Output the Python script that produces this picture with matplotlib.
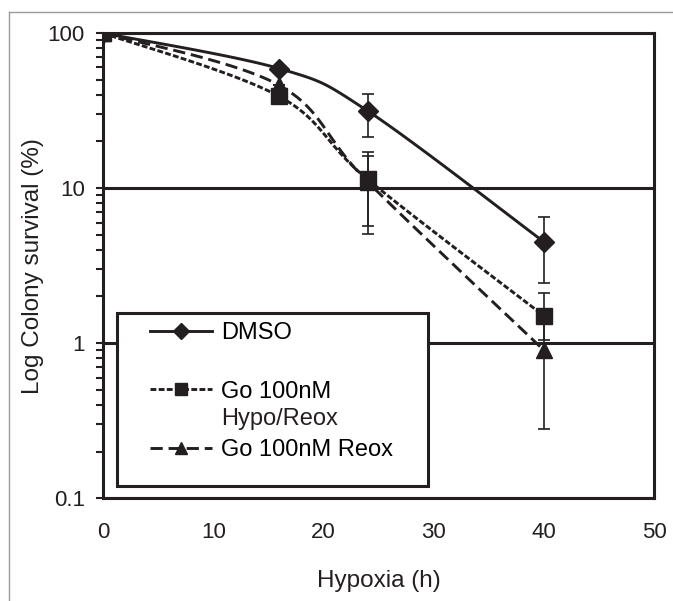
import numpy as np
import matplotlib
matplotlib.use("Agg")
import matplotlib.pyplot as plt
from matplotlib.lines import Line2D
from matplotlib.patches import Rectangle

plt.rcParams["font.family"] = ["Liberation Sans", "DejaVu Sans"]
plt.rcParams["font.size"] = 17

INK = "#231f20"

hours = [0, 16, 24, 40]

dmso = [100, 59, 31.5, 4.5]
dmso_lo = [100, 59, 21.4, 2.43]
dmso_hi = [100, 59, 40.2, 6.5]

hypo = [100, 39, 11.4, 1.5]
hypo_lo = [100, 39, 5.05, 1.05]
hypo_hi = [100, 39, 17.1, 2.1]

reox = [100, 46, 11.0, 0.9]
reox_lo = [100, 46, 5.7, 0.28]
reox_hi = [100, 46, 16.0, 1.4]

labels = ["DMSO", "Go 100nM", "Go 100nM Reox"]
label_extra = "Hypo/Reox"
x_ticks = [0, 10, 20, 30, 40, 50]
y_ticks = [0.1, 1, 10, 100]
y_ticklabels = ["0.1", "1", "10", "100"]


def smooth(x, y, n=40):
    # Excel style smoothed line: bezier through points, done in (x, log y)
    px = np.asarray(x, float)
    py = np.log10(np.asarray(y, float))
    pts = np.column_stack([px, py])
    ext = np.vstack([pts[0], pts, pts[-1]])
    out = []
    t = np.linspace(0, 1, n)[:, None]
    for i in range(len(pts) - 1):
        p0, p3 = ext[i + 1], ext[i + 2]
        p1 = p0 + (ext[i + 2] - ext[i]) / 6
        p2 = p3 - (ext[i + 3] - ext[i + 1]) / 6
        seg = ((1 - t) ** 3) * p0 + 3 * ((1 - t) ** 2) * t * p1 + 3 * (1 - t) * t ** 2 * p2 + t ** 3 * p3
        out.append(seg)
    out = np.vstack(out)
    return out[:, 0], 10 ** out[:, 1]


fig = plt.figure(figsize=(6.73, 6.01), dpi=100)
ax = fig.add_axes([0.153, 0.171, 0.819, 0.774])

series = [
    (dmso, dmso_lo, dmso_hi, "D", 10, "-"),
    (hypo, hypo_lo, hypo_hi, "s", 11, (0, (2.0, 0.8))),
    (reox, reox_lo, reox_hi, "^", 11, (0, (4.2, 2.0))),
]

handles = []
for vals, lo, hi, mk, ms, ls in series:
    sx, sy = smooth(hours, vals)
    ax.plot(sx, sy, color=INK, lw=2.1, ls=ls, zorder=3)
    err = [np.array(vals) - np.array(lo), np.array(hi) - np.array(vals)]
    ax.errorbar(hours, vals, yerr=err, fmt="none", ecolor=INK, elinewidth=1.2,
                capsize=4, capthick=1.2, zorder=4)
    ax.plot(hours, vals, ls="none", marker=mk, ms=ms, color=INK, zorder=5)
    handles.append(Line2D([], [], color=INK, lw=2.1, ls=ls, marker=mk, ms=ms * 0.85))

ax.set_yscale("log")
ax.set_ylim(0.1, 100)
ax.set_xlim(0, 50)
ax.set_yticks(y_ticks)
ax.set_yticklabels(y_ticklabels)
ax.set_xticks(x_ticks)
ax.yaxis.grid(True, which="major", color=INK, lw=2.2)
ax.set_axisbelow(True)
ax.tick_params(axis="x", length=0, pad=17, colors=INK, labelsize=16)
ax.tick_params(axis="y", which="both", direction="out", length=5, width=1.5,
               pad=8, colors=INK, labelsize=16)
ax.yaxis.set_minor_formatter(matplotlib.ticker.NullFormatter())
for sp in ax.spines.values():
    sp.set_color(INK)
    sp.set_linewidth(2.2)

ax.set_xlabel("Hypoxia (h)", color=INK, fontsize=17.5)
ax.set_ylabel("Log Colony survival (%)", color=INK, fontsize=17.5)
ax.xaxis.set_label_coords(0.5, -0.155)
ax.yaxis.set_label_coords(-0.107, 0.5)

# legend box
ax.add_patch(Rectangle((0.0254, 0.026), 0.5645, 0.372, transform=ax.transAxes,
                       fill=True, facecolor="white", edgecolor=INK, lw=2.2, zorder=6))
leg = ax.legend(handles, labels, loc="upper left", bbox_to_anchor=(0.085, 0.379),
                frameon=False, borderpad=0, borderaxespad=0, handlelength=2.65,
                handletextpad=0.38, labelspacing=1.55)
leg.set_zorder(7)
fig.canvas.draw()
t1 = leg.get_texts()[1]
bx, by = t1.get_transform().transform(t1.get_position())
ax_x, ax_y = ax.transAxes.inverted().transform((bx, by - 27))
ax.text(ax_x, ax_y, label_extra, transform=ax.transAxes, va="baseline",
        ha="left", color=INK, zorder=8)

# figure border lines
fig.add_artist(Line2D([0.0135, 0.0135], [0, 0.98], transform=fig.transFigure,
                      color="#9a9a9a", lw=1))
fig.add_artist(Line2D([0.0135, 1], [0.98, 0.98], transform=fig.transFigure,
                      color="#9a9a9a", lw=1))

fig.savefig("out.png", dpi=100)
